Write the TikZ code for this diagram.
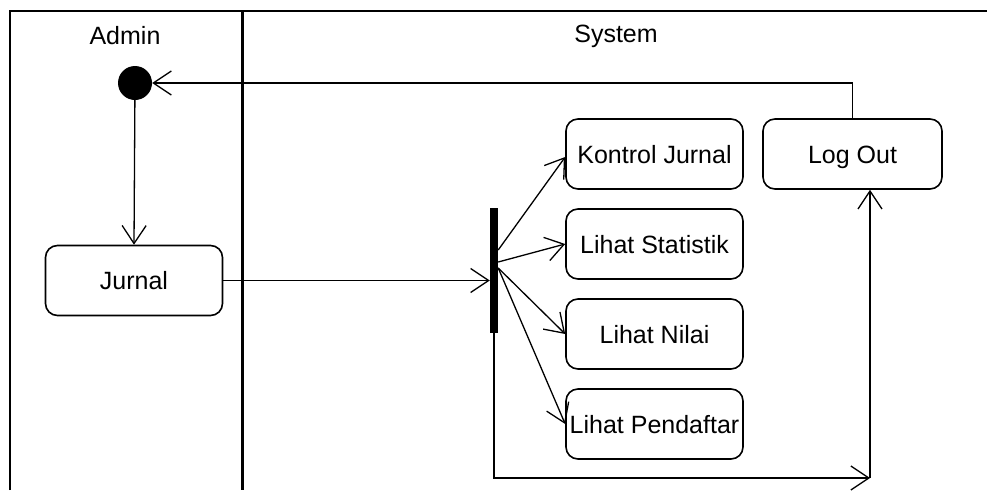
\documentclass[tikz,border=0pt]{standalone}
\usepackage{fontspec}
\setmainfont{Liberation Sans}
\usetikzlibrary{arrows.meta}
\tikzset{
  action/.style={draw, line width=1.6pt, rounded corners=12pt, minimum width=177pt,
    minimum height=70pt, inner sep=0pt, text height=18pt, text depth=0pt,
    font=\fontsize{25}{30}\selectfont},
  lane/.style={font=\fontsize{25}{30}\selectfont, inner sep=0pt},
  flow/.style={line width=1.3pt, -{Straight Barb[length=18pt, width=24pt, line width=1.3pt]}},
  frame/.style={line width=1.6pt},
}
\begin{document}
\begin{tikzpicture}[x=1pt, y=-1pt]
\useasboundingbox (0,0) rectangle (987,490);
% swimlane frame
\draw[frame] (10,490) -- (10,11) -- (987,11);
\draw[line width=3pt] (242,11) -- (242,490);
\node[lane] (admin) at (125,36) {Admin};
\node[lane] (system) at (616,36) {System};
% nodes
\node[circle, fill=black, minimum size=34pt, inner sep=0pt] (init) at (135,83) {};
\node[action] (jurnal) at (134,280.5) {Jurnal};
\node[fill=black, minimum width=8pt, minimum height=125pt, inner sep=0pt] (bar) at (494,270.5) {};
\node[action] (kontrol) at (654.5,154) {Kontrol Jurnal};
\node[action] (stat) at (654.5,244) {Lihat Statistik};
\node[action] (nilai) at (654.5,334) {Lihat Nilai};
\node[action] (daftar) at (654.5,424) {Lihat Pendaftar};
\node[action, minimum width=179pt] (logout) at (852.5,154) {Log Out};
\coordinate (turn) at (870,478);
% connectors
\draw[flow] (init) -- (jurnal.north);
\draw[flow] (jurnal.east) -- (jurnal.east -| bar.west);
\draw[flow] ([yshift=20.5pt]bar.east) -- ([yshift=-3pt]kontrol.west);
\draw[flow] ([yshift=8.5pt]bar.east) -- (stat.west);
\draw[flow] ([yshift=2.5pt]bar.east) -- (nilai.west);
\draw[flow] ([yshift=2.5pt]bar.east) -- (daftar.west);
\draw[flow] (logout.north) -- (logout.north |- init) -- (init.east);
\draw[flow] (bar.south) |- (turn);
\draw[flow] (turn) -- (turn |- logout.south);
\end{tikzpicture}
\end{document}
